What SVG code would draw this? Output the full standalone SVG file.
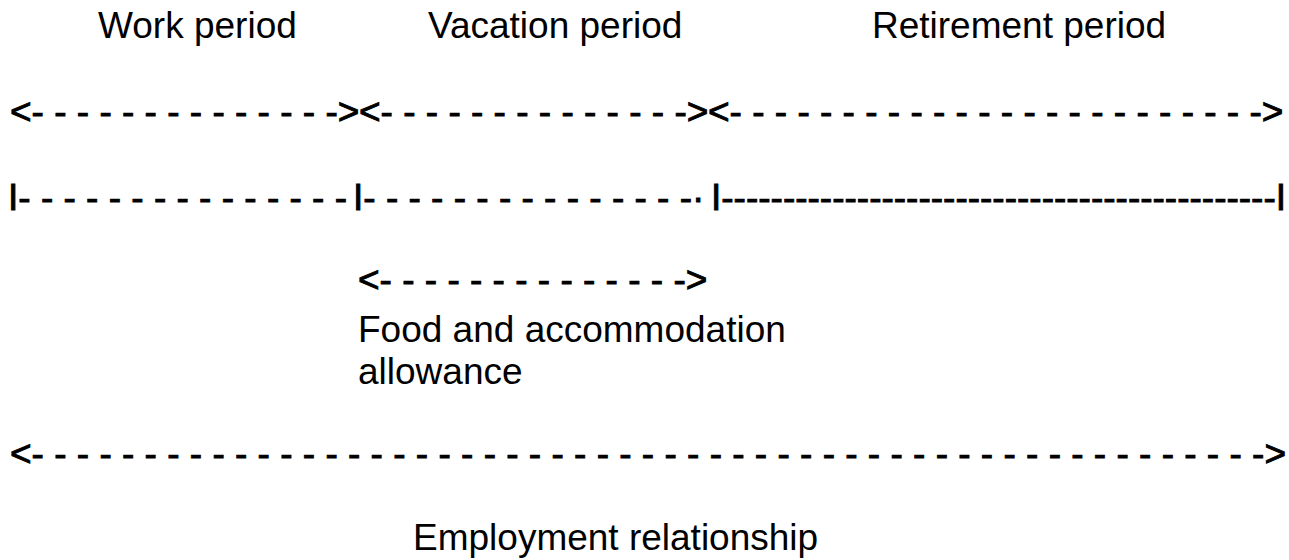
<svg xmlns="http://www.w3.org/2000/svg" width="1289" height="560" viewBox="0 0 1289 560">
<style>
text{font-family:"Liberation Sans",Arial,sans-serif;font-size:37px;fill:#000;white-space:pre}
.dash{stroke:#000;stroke-width:0.9px}
</style>
<rect width="1289" height="560" fill="#fff"/>
<g id="labels">
<text id="work" x="98" y="38">Work period</text>
<text id="vacation" x="428" y="38">Vacation period</text>
<text id="retirement" x="872" y="38">Retirement period</text>
</g>
<g id="connectors">
<text class="dash" id="row1a" x="10" y="124">&lt;- - - - - - - - - - - - - -&gt;</text>
<text class="dash" id="row1b" x="359" y="124">&lt;- - - - - - - - - - - - - -&gt;</text>
<text class="dash" id="row1c" x="708" y="124">&lt;- - - - - - - - - - - - - - - - - - - - - - - -&gt;</text>
<text class="dash" id="row2a" x="8" y="210">I- - - - - - - - - - - - - - -</text>
<text class="dash" id="row2b" x="353" y="210">I- - - - - - - - - - - - - - -·</text>
<text class="dash" id="row2c" x="711" y="210">I---------------------------------------------I</text>
<text class="dash" id="row3" x="358" y="292">&lt;- - - - - - - - - - - - - -&gt;</text>
<text class="dash" id="row4" x="10" y="466">&lt;- - - - - - - - - - - - - - - - - - - - - - - - - - - - - - - - - - - - - - - - - - - - - - - - - - - - - - -&gt;</text>
</g>
<g id="food">
<text x="358" y="342">Food and accommodation</text>
<text x="358" y="384">allowance</text>
</g>
<g id="employment">
<text x="413" y="550">Employment relationship</text>
</g>
</svg>
